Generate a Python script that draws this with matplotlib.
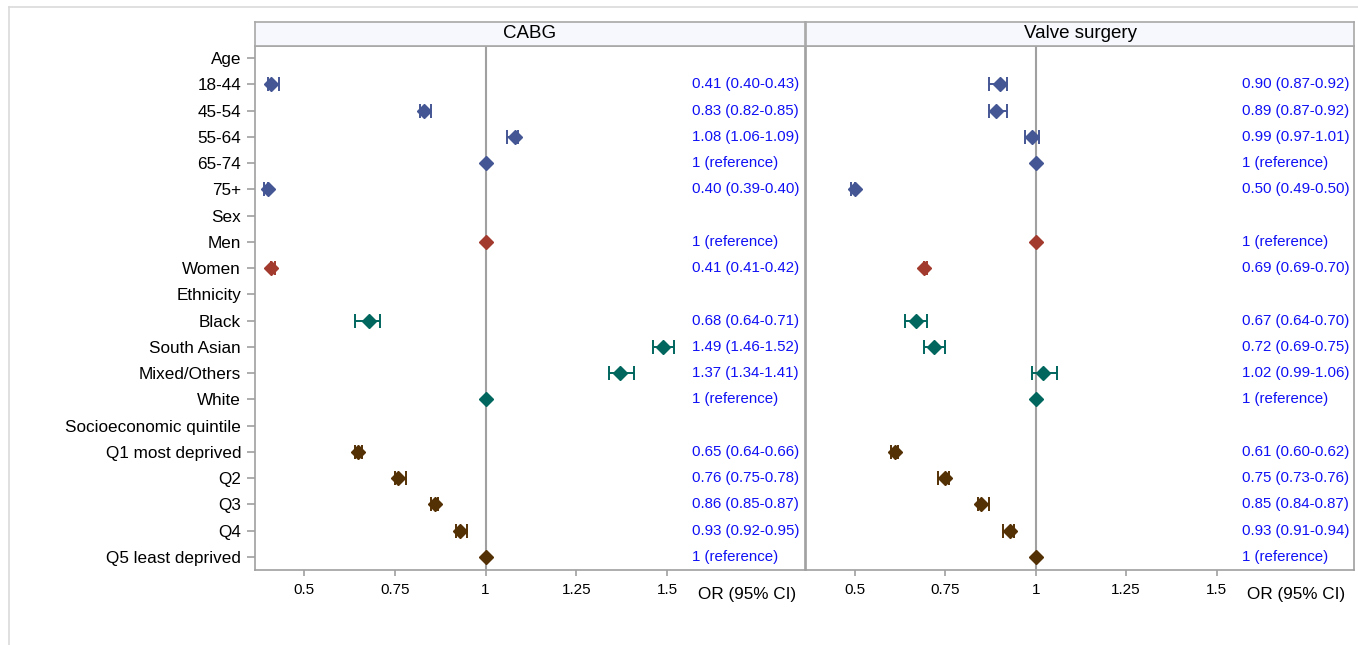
import numpy as np
import matplotlib
matplotlib.use('Agg')
from matplotlib import pyplot as plt
from matplotlib.lines import Line2D
matplotlib.rcParams['font.family'] = ['Liberation Sans', 'DejaVu Sans']

# rows from top to bottom
labels = ['Age', '18-44', '45-54', '55-64', '65-74', '75+',
          'Sex', 'Men', 'Women',
          'Ethnicity', 'Black', 'South Asian', 'Mixed/Others', 'White',
          'Socioeconomic quintile', 'Q1 most deprived', 'Q2', 'Q3', 'Q4', 'Q5 least deprived']
groups = ['age'] * 6 + ['sex'] * 3 + ['eth'] * 5 + ['ses'] * 6
nan = np.nan

# CABG
cabg_or = [nan, 0.41, 0.83, 1.08, 1, 0.40, nan, 1, 0.41, nan, 0.68, 1.49, 1.37, 1,
           nan, 0.65, 0.76, 0.86, 0.93, 1]
cabg_lo = [nan, 0.40, 0.82, 1.06, nan, 0.39, nan, nan, 0.41, nan, 0.64, 1.46, 1.34, nan,
           nan, 0.64, 0.75, 0.85, 0.92, nan]
cabg_hi = [nan, 0.43, 0.85, 1.09, nan, 0.40, nan, nan, 0.42, nan, 0.71, 1.52, 1.41, nan,
           nan, 0.66, 0.78, 0.87, 0.95, nan]

# Valve surgery
valve_or = [nan, 0.90, 0.89, 0.99, 1, 0.50, nan, 1, 0.69, nan, 0.67, 0.72, 1.02, 1,
            nan, 0.61, 0.75, 0.85, 0.93, 1]
valve_lo = [nan, 0.87, 0.87, 0.97, nan, 0.49, nan, nan, 0.69, nan, 0.64, 0.69, 0.99, nan,
            nan, 0.60, 0.73, 0.84, 0.91, nan]
valve_hi = [nan, 0.92, 0.92, 1.01, nan, 0.50, nan, nan, 0.70, nan, 0.70, 0.75, 1.06, nan,
            nan, 0.62, 0.76, 0.87, 0.94, nan]

group_colors = {'age': '#445694', 'sex': '#A23A2E', 'eth': '#01665E', 'ses': '#543005'}
xticks = [0.5, 0.75, 1, 1.25, 1.5]
xticklabels = ['0.5', '0.75', '1', '1.25', '1.5']

W, H = 1358, 645
fig = plt.figure(figsize=(W / 100, H / 100), dpi=100)

# light frame round the graph
fig.add_artist(Line2D([9 / W, 9 / W], [0, 1 - 7 / H], color='#DADADA', lw=1.2))
fig.add_artist(Line2D([9 / W, 1], [1 - 7 / H, 1 - 7 / H], color='#DADADA', lw=1.2))


def fmt_row(o, lo, hi):
    if np.isnan(o):
        return ''
    if np.isnan(lo):
        return '1 (reference)'
    return f'{o:.2f} ({lo:.2f}-{hi:.2f})'


def panel(x0, x1, title, ors, los, his, show_y):
    top, bot = 46, 570
    ax = fig.add_axes([x0 / W, 1 - bot / H, (x1 - x0) / W, (bot - top) / H])
    n = len(labels)
    y = np.arange(n)
    ors = np.array(ors)
    los = np.array(los)
    his = np.array(his)
    ax.axvline(1, color='#A0A0A0', lw=1.5, zorder=1)
    for g, c in group_colors.items():
        m = np.array([gg == g for gg in groups])
        ci = m & ~np.isnan(los)
        ax.errorbar(ors[ci], y[ci], xerr=[ors[ci] - los[ci], his[ci] - ors[ci]],
                    fmt='none', ecolor=c, elinewidth=1.4, capsize=5, capthick=1.4, zorder=2)
        ax.plot(ors[m], y[m], 'D', color=c, markersize=7, zorder=3)
    for i in range(n):
        ax.text(1.57, i, fmt_row(ors[i], los[i], his[i]), color='#1010F5',
                fontsize=10.8, va='center', ha='left')
    ax.set_xlim(0.365, 1.88)
    ax.set_ylim(19.495, -0.457)
    ax.set_yticks(y)
    if show_y:
        ax.set_yticklabels(labels, fontsize=12.3)
    else:
        ax.set_yticklabels([])
    ax.set_xticks(xticks)
    ax.set_xticklabels(xticklabels, fontsize=11)
    ax.tick_params(axis='both', color='#A0A0A0', width=1.2)
    ax.tick_params(axis='x', length=4.5, pad=5)
    ax.tick_params(axis='y', length=6, pad=4)
    if not show_y:
        ax.tick_params(axis='y', length=0)
    for s in ax.spines.values():
        s.set_color('#A0A0A0')
        s.set_linewidth(1.2)
    ax.text(1.585, -0.032, 'OR (95% CI)', transform=ax.get_xaxis_transform(),
            fontsize=12.3, ha='left', va='top')

    # header strip
    hx = fig.add_axes([x0 / W, 1 - top / H, (x1 - x0) / W, 24 / H])
    hx.set_facecolor('#F6F8FD')
    hx.set_xticks([])
    hx.set_yticks([])
    for s in hx.spines.values():
        s.set_color('#A8A8A8')
        s.set_linewidth(1.2)
    hx.text(0.5, 0.5, title, ha='center', va='center', fontsize=13.5, transform=hx.transAxes)
    return ax


panel(255, 805, 'CABG', cabg_or, cabg_lo, cabg_hi, True)
panel(806, 1354, 'Valve surgery', valve_or, valve_lo, valve_hi, False)

fig.savefig('out.png', dpi=100)
